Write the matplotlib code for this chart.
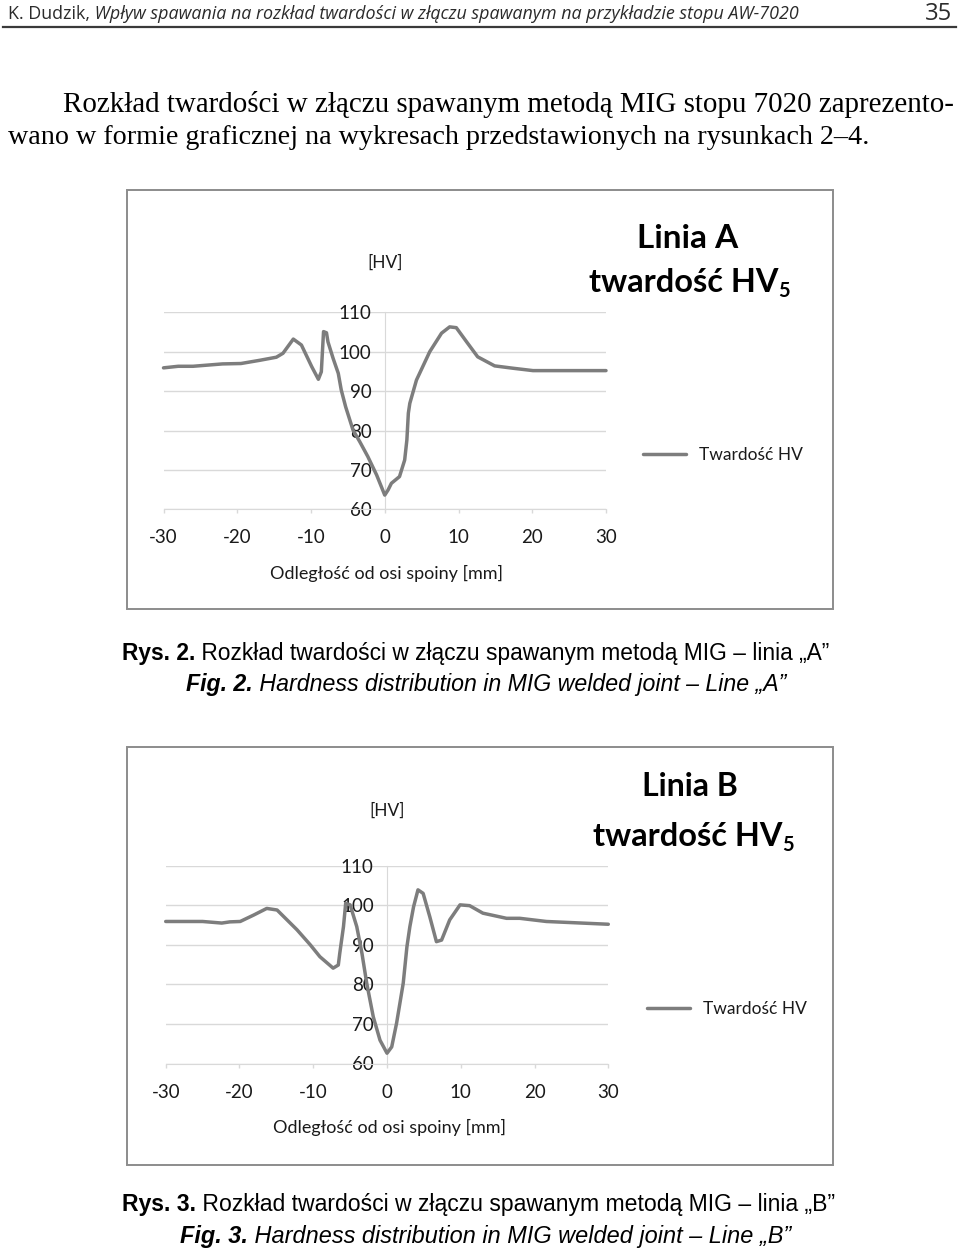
import matplotlib
matplotlib.use("Agg")
import matplotlib.pyplot as plt
from matplotlib import font_manager
from matplotlib.patches import Rectangle
from matplotlib.lines import Line2D

plt.rcParams["axes.unicode_minus"] = False

# ---------------- data ----------------
dist_a = [-30.0, -28.0, -26.0, -22.0, -19.5, -17.0, -14.7, -13.8, -12.4, -11.3,
          -9.9, -9.0, -8.6, -8.3, -7.9, -7.7, -7.0, -6.3, -5.9, -5.3,
          -4.3, -3.4, -2.3, -1.1, 0.0, 0.45, 0.9, 2.0, 2.7, 3.0,
          3.2, 3.4, 4.3, 6.1, 7.7, 8.8, 9.7, 11.1, 12.6, 14.9,
          17.4, 20.1, 30.0]
hv_a = [95.9, 96.3, 96.3, 96.9, 97.0, 97.8, 98.6, 99.6, 103.2, 101.7,
        96.2, 93.0, 94.9, 105.1, 104.8, 102.5, 98.3, 94.5, 90.3, 86.0,
        80.1, 77.2, 73.4, 68.7, 63.6, 64.9, 66.6, 68.3, 72.5, 77.6,
        84.4, 86.9, 92.8, 100.0, 104.7, 106.3, 106.1, 102.5, 98.7, 96.4,
        95.8, 95.2, 95.2]

dist_b = [-30.0, -25.0, -22.4, -21.3, -19.9, -18.1, -16.3, -14.9, -12.2, -10.4,
          -9.1, -7.3, -6.6, -6.4, -5.9, -5.6, -5.0, -4.1, -3.4, -2.75,
          -1.86, -0.95, 0.0, 0.64, 1.3, 2.2, 2.7, 3.1, 3.6, 4.2,
          4.9, 5.8, 6.7, 7.4, 8.5, 9.9, 11.2, 13.0, 16.2, 18.0,
          21.6, 30.0]
hv_b = [95.9, 95.9, 95.5, 95.8, 95.9, 97.5, 99.2, 98.8, 93.8, 90.0,
        87.0, 84.1, 84.9, 87.9, 94.6, 100.5, 100.1, 94.6, 87.9, 80.3,
        71.8, 65.9, 62.6, 64.2, 70.2, 80.3, 89.5, 94.6, 99.6, 103.9,
        103.0, 97.1, 90.8, 91.2, 96.3, 100.1, 99.9, 98.0, 96.7, 96.7,
        95.9, 95.2]

x_ticks = [-30, -20, -10, 0, 10, 20, 30]
y_ticks = [60, 70, 80, 90, 100, 110]
series_label = "Twardość HV"
x_title = "Odległość od osi spoiny [mm]"
y_title = "[HV]"
title_a = "Linia A"
title_b = "Linia B"
subtitle = "twardość HV"
subtitle_sub = "5"

header_author = "K. Dudzik,"
header_title = " Wpływ spawania na rozkład twardości w złączu spawanym na przykładzie stopu AW-7020"
page_number = "35"
paragraph = ["Rozkład twardości w złączu spawanym metodą MIG stopu 7020 zaprezento-",
             "wano w formie graficznej na wykresach przedstawionych na rysunkach 2–4."]
cap_a_pl = ("Rys. 2.", " Rozkład twardości w złączu spawanym metodą MIG – linia „A”")
cap_a_en = ("Fig. 2.", " Hardness distribution in MIG welded joint – Line „A”")
cap_b_pl = ("Rys. 3.", " Rozkład twardości w złączu spawanym metodą MIG – linia „B”")
cap_b_en = ("Fig. 3.", " Hardness distribution in MIG welded joint – Line „B”")

# ---------------- setup ----------------
W, H = 960, 1255
fig = plt.figure(figsize=(W / 100, H / 100), dpi=100)
fig.patch.set_facecolor("white")
renderer = fig.canvas.get_renderer()

available = {f.name for f in font_manager.fontManager.ttflist}


def pick(*names):
    for n in names:
        if n in available:
            return n
    return "DejaVu Sans"


CHART = pick("Lato", "Open Sans", "DejaVu Sans")
SERIF = pick("Liberation Serif", "DejaVu Serif")
NARROW = pick("Liberation Sans Narrow", "Liberation Sans")
HEAD = pick("Open Sans", "Lato", "DejaVu Sans")
INK = "#1a1a1a"


def fx(px):
    return px / W


def fy(py):
    return 1 - py / H


def measure(s, size, **kw):
    t = fig.text(0, 0, s, fontsize=size, **kw)
    w = t.get_window_extent(renderer).width
    t.remove()
    return w


def fit_runs(runs, x0, x1, y, color="black"):
    ref = 20.0
    total = sum(measure(s, ref, **kw) for s, kw in runs)
    size = ref * (x1 - x0) / total
    cur = x0
    for s, kw in runs:
        fig.text(fx(cur), fy(y), s, fontsize=size, ha="left", va="center",
                 color=color, **kw)
        cur += measure(s, size, **kw)
    return size


# ---------------- page text ----------------
fit_runs([(header_author, dict(family=HEAD)),
          (header_title, dict(family=HEAD, style="italic"))],
         8, 802, 14, color="#2b2b2b")
fit_runs([(page_number, dict(family=HEAD))], 925, 952, 14, color="#2b2b2b")
fig.add_artist(Line2D([fx(3), fx(956)], [fy(27), fy(27)], color="#3a3a3a", lw=1.6))

fit_runs([(paragraph[0], dict(family=SERIF))], 63, 954, 104)
fit_runs([(paragraph[1], dict(family=SERIF))], 8, 870, 137)

for (bold, rest), (x0, x1, y) in [(cap_a_pl, (122, 828, 653)), (cap_b_pl, (122, 836, 1204))]:
    fit_runs([(bold, dict(family=NARROW, weight="bold")), (rest, dict(family=NARROW))], x0, x1, y)
for (bold, rest), (x0, x1, y) in [(cap_a_en, (186, 786, 685)), (cap_b_en, (180, 790, 1236))]:
    fit_runs([(bold, dict(family=NARROW, weight="bold", style="italic")),
              (rest, dict(family=NARROW, style="italic"))], x0, x1, y)


# ---------------- charts ----------------
def chart(frame, plot_px, x, y, title, title_box, sub_box, legend_pos, hv_off, xl_y):
    fl, ft, fr, fb = frame
    fig.add_artist(Rectangle((fx(fl), fy(fb)), (fr - fl) / W, (fb - ft) / H,
                             transform=fig.transFigure, fill=False,
                             ec="#8c8c8c", lw=1.4))
    l, r, t, b = plot_px
    ax = fig.add_axes([fx(l), fy(b), (r - l) / W, (b - t) / H])
    ax.set_facecolor("none")
    ax.plot(x, y, color="#7d7d7d", lw=2.5, solid_joinstyle="round",
            solid_capstyle="round", label=series_label, zorder=3, clip_on=False)
    ax.set_xlim(-30, 30)
    ax.set_ylim(60, 110)
    ax.set_xticks(x_ticks)
    ax.set_yticks(y_ticks)
    ax.grid(axis="y", color="#d9d9d9", lw=1)
    ax.set_axisbelow(True)
    for s in ["top", "right"]:
        ax.spines[s].set_visible(False)
    ax.spines["left"].set_position(("data", 0))
    ax.spines["left"].set_color("#d9d9d9")
    ax.spines["bottom"].set_color("#d9d9d9")
    ax.tick_params(axis="y", length=0, pad=9.5, labelsize=13.5, labelcolor=INK)
    ax.tick_params(axis="x", length=3, width=1, color="#d9d9d9", pad=11.5,
                   labelsize=13.5, labelcolor=INK)
    for lab in ax.get_xticklabels() + ax.get_yticklabels():
        lab.set_family(CHART)
    ax.set_xlabel(x_title, fontsize=13, family=CHART, color=INK)
    ax.xaxis.set_label_coords(0.505, -(xl_y - b) / (b - t))
    ax.xaxis.label.set_va("center")
    ax.annotate(y_title, xy=(0, 110), xycoords="data", xytext=(0, hv_off * 0.72),
                textcoords="offset points", ha="center", va="center",
                fontsize=12.5, family=CHART, color=INK)
    # titles
    fit_runs([(title, dict(family=CHART, weight="bold"))], *title_box)
    sx0, sx1, sy = sub_box
    size = fit_runs([(subtitle, dict(family=CHART, weight="bold"))], sx0, sx1, sy)
    fig.text(fx(sx1 + 0.5), fy(sy + 9), subtitle_sub, fontsize=size * 0.62,
             family=CHART, weight="bold", ha="left", va="center")
    lx, ly = legend_pos
    ax.legend(loc="center left", bbox_to_anchor=(fx(lx), fy(ly)),
              bbox_transform=fig.transFigure, frameon=False, borderpad=0,
              borderaxespad=0, handlelength=2.5, handletextpad=0.7,
              prop=dict(family=CHART, size=12.5), labelcolor=INK)
    return ax


chart((127, 190, 833, 609), (163.5, 606, 312.3, 509.3), dist_a, hv_a, title_a,
      (637, 738, 238), (589, 778, 282), (643, 455), 50, 573)
chart((127, 747, 833, 1165), (165.7, 608.3, 865.7, 1063.5), dist_b, hv_b, title_b,
      (642, 738, 787), (593, 782, 836), (647, 1009), 55.5, 1127)

fig.savefig("out.png", dpi=100, facecolor="white")
